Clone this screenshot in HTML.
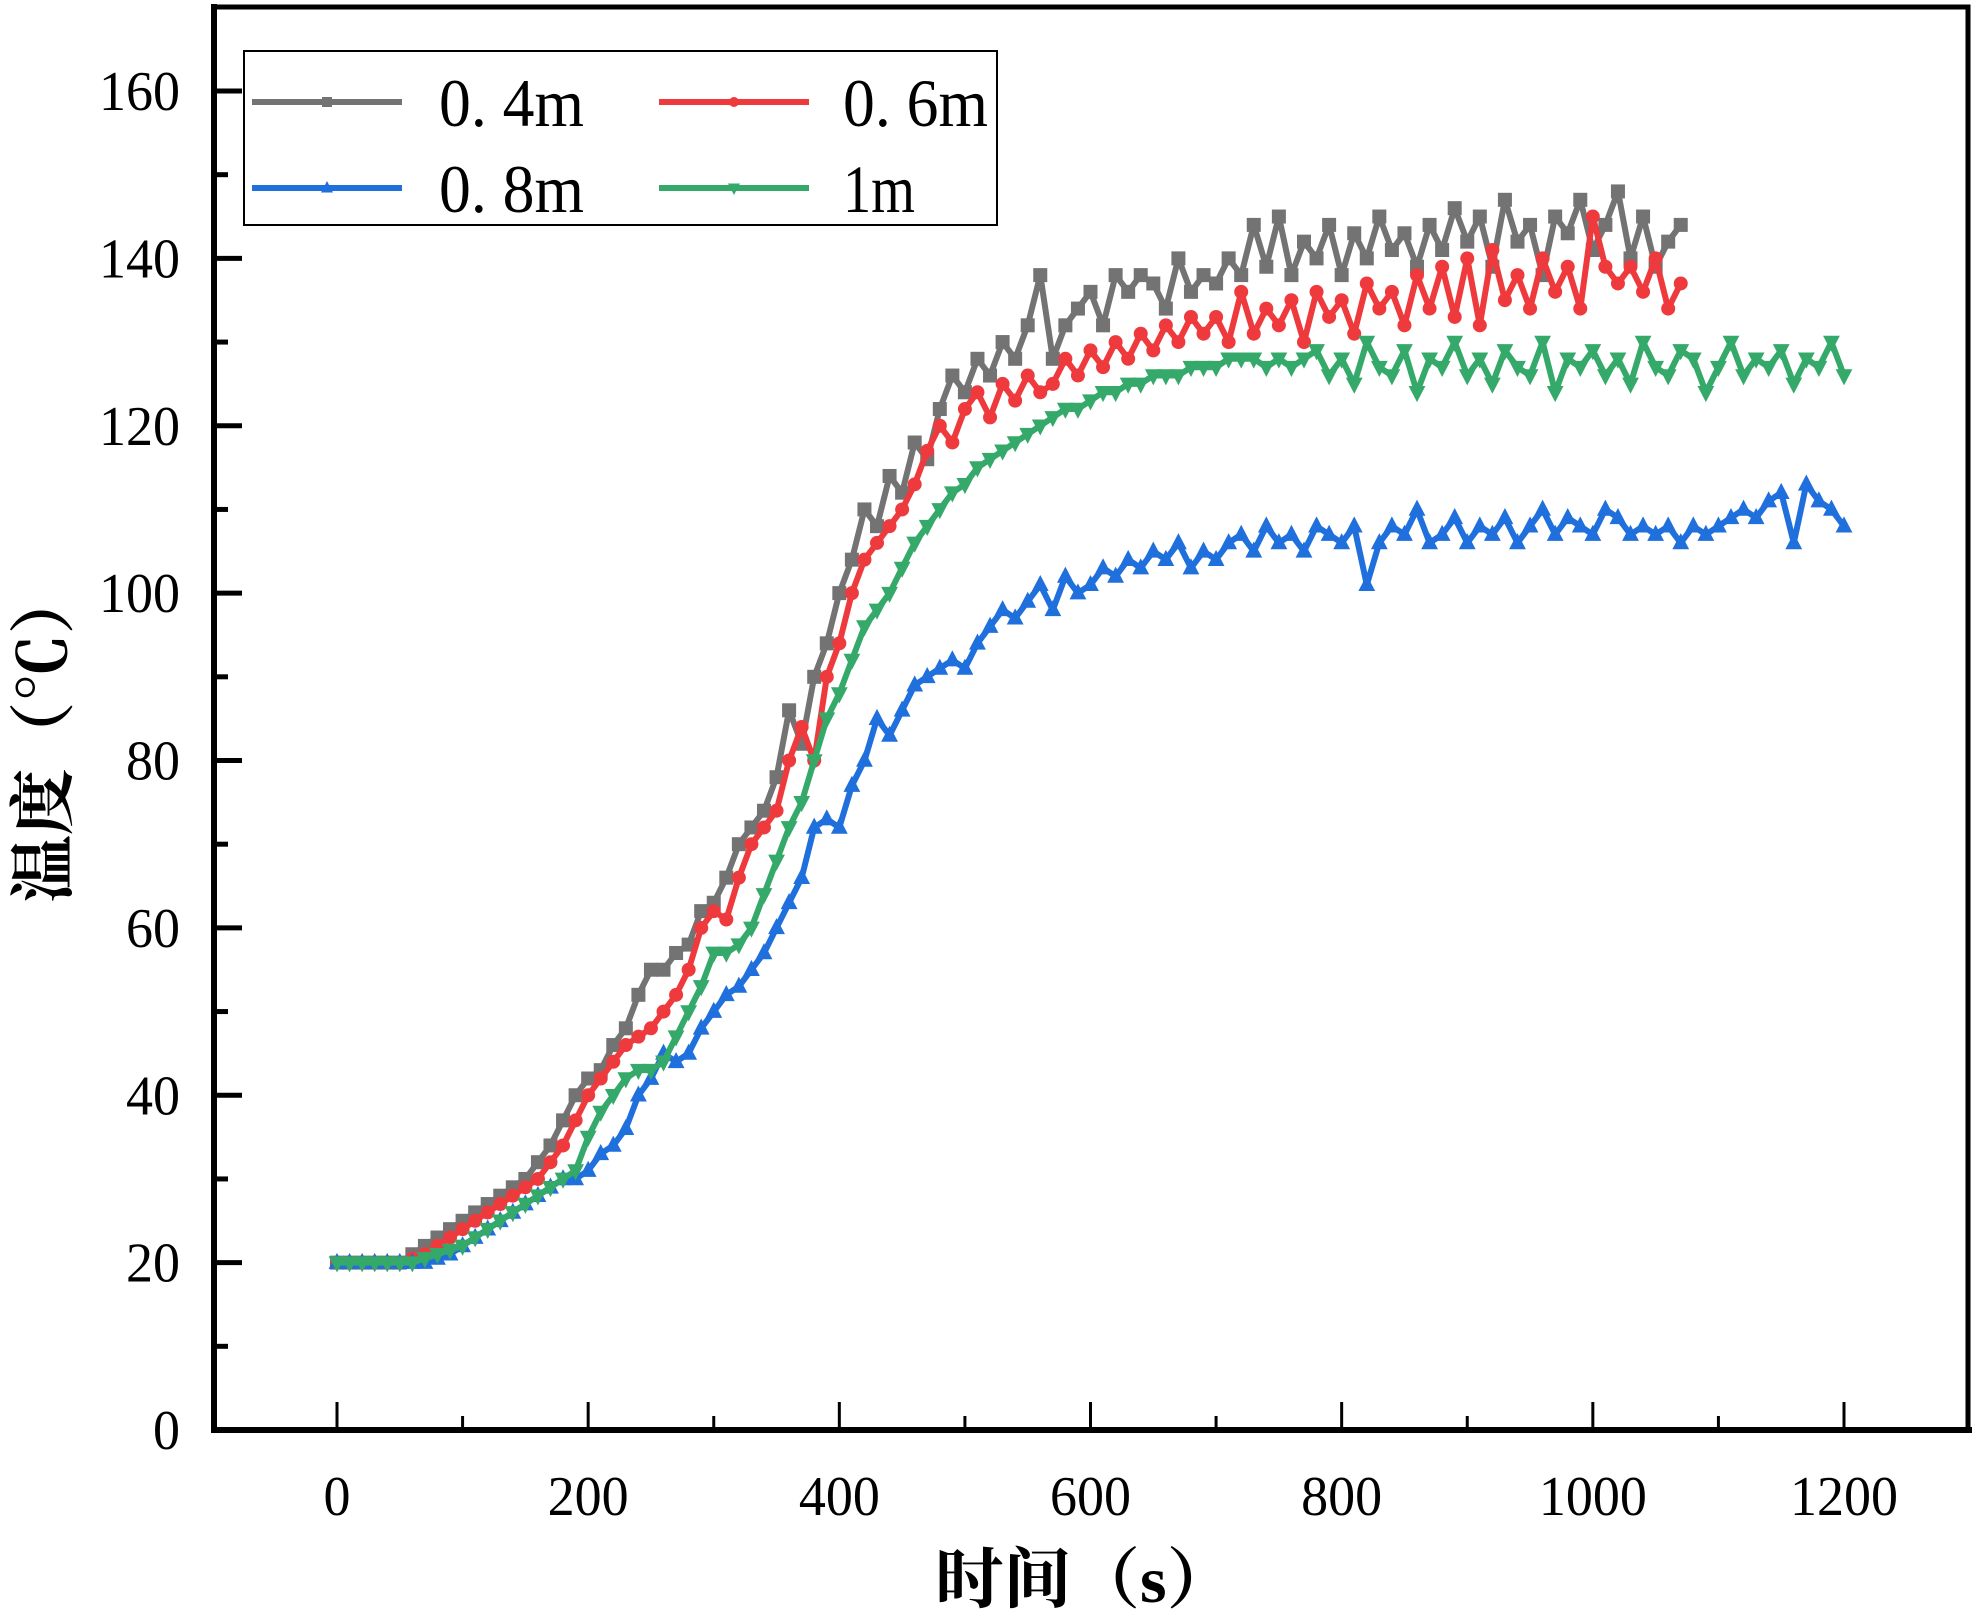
<!DOCTYPE html>
<html><head><meta charset="utf-8"><style>html,body{margin:0;padding:0;background:#fff}svg{display:block}</style></head>
<body>
<svg id="chart" width="1979" height="1622" viewBox="0 0 1979 1622" xmlns="http://www.w3.org/2000/svg">
<rect x="0" y="0" width="1979" height="1622" fill="#fff"/>
<g id="plot"></g>
<g id="axes"></g>
</svg>
<script>
const xTicks=[0,200,400,600,800,1000,1200];
const yTicks=[0,20,40,60,80,100,120,140,160];
const seriesNames=["0. 4m","0. 6m","0. 8m","1m"];
const s04=[20,20,20,20,20,20,21,22,23,24,25,26,27,28,29,30,32,34,37,40,42,43,46,48,52,55,55,57,58,62,63,66,70,72,74,78,86,82,90,94,100,104,110,108,114,112,118,116,122,126,124,128,126,130,128,132,138,128,132,134,136,132,138,136,138,137,134,140,136,138,137,140,138,144,139,145,138,142,140,144,138,143,140,145,141,143,139,144,141,146,142,145,139,147,142,144,138,145,143,147,141,144,148,140,145,139,142,144];
const s06=[20,20,20,20,20,20,20.5,21,22,23,24,25,26,27,28,29,30,32,34,37,40,42,44,46,47,48,50,52,55,60,62,61,66,70,72,74,80,84,80,90,94,100,104,106,108,110,113,117,120,118,122,124,121,125,123,126,124,125,128,126,129,127,130,128,131,129,132,130,133,131,133,130,136,131,134,132,135,130,136,133,135,131,137,134,136,132,138,134,139,133,140,132,141,135,138,134,140,136,139,134,145,139,137,139,136,140,134,137];
const s08=[20,20,20,20,20,20,20,20,20.5,21,22,23,24,25,26,27,28,29,30,30,31,33,34,36,40,42,45,44,45,48,50,52,53,55,57,60,63,66,72,73,72,77,80,85,83,86,89,90,91,92,91,94,96,98,97,99,101,98,102,100,101,103,102,104,103,105,104,106,103,105,104,106,107,105,108,106,107,105,108,107,106,108,101,106,108,107,110,106,107,109,106,108,107,109,106,108,110,107,109,108,107,110,109,107,108,107,108,106,108,107,108,109,110,109,111,112,106,113,111,110,108];
const s10=[20,20,20,20,20,20,20,20.5,21,21.5,22,23,24,25,26,27,28,29,30,31,35,38,40,42,43,43,44,47,50,53,57,57,58,60,64,68,72,75,80,85,88,92,96,98,100,103,106,108,110,112,113,115,116,117,118,119,120,121,122,122,123,124,124,125,125,126,126,126,127,127,127,128,128,128,127,128,127,128,129,126,128,125,130,127,126,129,124,128,127,130,126,128,125,129,127,126,130,124,128,127,129,126,128,125,130,127,126,129,128,124,127,130,126,128,127,129,125,128,127,130,126];
const stepSec=10;

const NS="http://www.w3.org/2000/svg";
const L=214,R=1969,T=6,B=1430;
const X=v=>337+(v)*(1844-337)/1200;
const Y=v=>B-v*(B-91)/160;
function el(tag,attrs,parent){const e=document.createElementNS(NS,tag);for(const k in attrs)e.setAttribute(k,attrs[k]);parent.appendChild(e);return e;}
const plot=document.getElementById('plot'),axes=document.getElementById('axes');
const colors=["#737373","#ee3a3d","#1f6fdc","#35a96a"];
function marker(kind,x,y,c,g,sz){
  let m;
  if(kind===0)m=el('rect',{x:x-sz/2,y:y-sz/2,width:sz,height:sz,fill:c},g);
  else if(kind===1)m=el('circle',{cx:x,cy:y,r:sz/2,fill:c},g);
  else if(kind===2)m=el('polygon',{points:`${x},${y-sz*0.7} ${x-sz*0.6},${y+sz*0.45} ${x+sz*0.6},${y+sz*0.45}`,fill:c},g);
  else m=el('polygon',{points:`${x},${y+sz*0.7} ${x-sz*0.6},${y-sz*0.45} ${x+sz*0.6},${y-sz*0.45}`,fill:c},g);
  return m;
}
const allSeries=[s04,s06,s08,s10];
const keys=['series-0-4m','series-0-6m','series-0-8m','series-1m'];
allSeries.forEach((s,k)=>{
  const g=el('g',{},plot);
  
  
  const pts=s.map((v,i)=>X(i*stepSec).toFixed(1)+','+Y(v).toFixed(1)).join(' ');
  const line=el('polyline',{points:pts,fill:'none',stroke:colors[k],'stroke-width':6,'stroke-linejoin':'round'},g);
  
  
  s.forEach((v,i)=>{
    const m=marker(k,X(i*stepSec),Y(v),colors[k],g,14);
    
    
  });
});
const frame=el('rect',{x:L,y:T,width:R-L,height:B-T,fill:'none',stroke:'#000','stroke-width':3},axes);


const xa=el('line',{x1:L-2,y1:B,x2:R+3,y2:B,stroke:'#000','stroke-width':6},axes);


const ya=el('line',{x1:L,y1:T-2,x2:L,y2:B+3,stroke:'#000','stroke-width':6},axes);


const tx=el('line',{x1:L,y1:T+1,x2:R,y2:T+1,stroke:'#000','stroke-width':5},axes);


const rx=el('line',{x1:R-1,y1:T,x2:R-1,y2:B,stroke:'#000','stroke-width':5},axes);


for(let v=0;v<=1200;v+=100){
  const major=v%200===0;
  const t=el('line',{x1:X(v),y1:B,x2:X(v),y2:B-(major?28:14),stroke:'#000','stroke-width':3},axes);
  
  
}
xTicks.forEach(v=>{
  const s=String(v);
  const t=el('text',{x:X(v),y:1515,'text-anchor':'middle','font-family':'Liberation Serif, serif','font-size':56,textLength:s.length*27,lengthAdjust:'spacingAndGlyphs'},axes);
  t.textContent=s;
  
  
});
for(let v=10;v<170;v+=10){
  const major=v%20===0;
  const t=el('line',{x1:L,y1:Y(v),x2:L+(major?28:14),y2:Y(v),stroke:'#000','stroke-width':5},axes);
  
  
}
yTicks.forEach(v=>{
  const s=String(v);
  const t=el('text',{x:180,y:Y(v)+19,'text-anchor':'end','font-family':'Liberation Serif, serif','font-size':56,textLength:s.length*27,lengthAdjust:'spacingAndGlyphs'},axes);
  t.textContent=s;
  
  
});
const xt=el('text',{x:1085,y:1602,'text-anchor':'middle','font-family':'Liberation Serif, Noto Serif CJK SC, serif','font-size':66,'font-weight':'bold',textLength:300,lengthAdjust:'spacingAndGlyphs'},axes);
xt.textContent='时间（s）';


const yt=el('text',{x:0,y:0,'text-anchor':'middle','font-family':'Liberation Serif, Noto Serif CJK SC, serif','font-size':66,'font-weight':'bold',textLength:335,lengthAdjust:'spacingAndGlyphs',transform:'translate(66,735) rotate(-90)'},axes);
yt.textContent='温度（℃）';


const lg=el('g',{},axes);


el('rect',{x:244,y:51,width:753,height:174,fill:'#fff',stroke:'#000','stroke-width':2},lg);
const lpos=[[252,102,439],[659,102,843],[252,188,439],[659,188,843]];
const widths=[145,145,145,72];
seriesNames.forEach((n,k)=>{
  const [x0,y0,tx0]=lpos[k];
  const e=el('g',{},lg);
  
  
  el('line',{x1:x0,y1:y0,x2:x0+150,y2:y0,stroke:colors[k],'stroke-width':6},e);
  marker(k,x0+75,y0,colors[k],e,10);
  const t=el('text',{x:tx0,y:y0+24,'font-family':'Liberation Serif, serif','font-size':68,textLength:widths[k],lengthAdjust:'spacingAndGlyphs'},e);
  t.textContent=n;
});
</script>
</body></html>
